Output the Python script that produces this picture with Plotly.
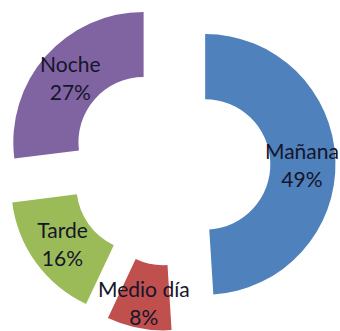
import plotly.graph_objects as go

# Share of activity by time of day
labels = ["Mañana", "Medio día", "Tarde", "Noche"]
values = [49, 8, 16, 27]
colors = ["#4F81BD", "#C0504D", "#9BBB59", "#8064A2"]

fig = go.Figure(
    go.Pie(
        labels=labels,
        values=values,
        sort=False,
        direction="clockwise",
        rotation=0,
        hole=0.5,
        pull=[0.27] * len(values),
        marker=dict(colors=colors, line=dict(width=0)),
        texttemplate="%{label}<br>%{percent:.0%}",
        textposition="inside",
        insidetextorientation="horizontal",
        textfont=dict(family="Lato", size=21, color="#15152a"),
        hoverinfo="label+percent",
        showlegend=False,
    )
)

fig.update_layout(
    width=340,
    height=331,
    margin=dict(l=0, r=0, t=0, b=0),
    paper_bgcolor="white",
    plot_bgcolor="white",
    uniformtext=dict(minsize=21, mode="show"),
)

fig.write_html("out.html")
